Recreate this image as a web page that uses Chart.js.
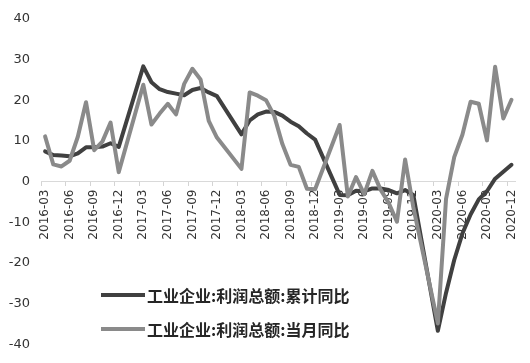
<!DOCTYPE html>
<html lang="zh">
<head>
    <meta charset="UTF-8">
    <title>工业企业利润总额同比</title>
    <style>
        html, body { margin: 0; padding: 0; background: #fff; }
        #wrap { width: 530px; height: 363px; }
    </style>
</head>
<body>
    <div id="wrap"><canvas id="profitChart" width="530" height="363"></canvas></div>

    <script src="https://cdn.jsdelivr.net/npm/chart.js@4/dist/chart.umd.min.js"></script>

    <script>
        const months = [
            '2016-03', '2016-04', '2016-05', '2016-06', '2016-07', '2016-08', '2016-09', '2016-10', '2016-11', '2016-12',
            '2017-01', '2017-02', '2017-03', '2017-04', '2017-05', '2017-06', '2017-07', '2017-08', '2017-09', '2017-10', '2017-11', '2017-12',
            '2018-01', '2018-02', '2018-03', '2018-04', '2018-05', '2018-06', '2018-07', '2018-08', '2018-09', '2018-10', '2018-11', '2018-12',
            '2019-01', '2019-02', '2019-03', '2019-04', '2019-05', '2019-06', '2019-07', '2019-08', '2019-09', '2019-10', '2019-11', '2019-12',
            '2020-01', '2020-02', '2020-03', '2020-04', '2020-05', '2020-06', '2020-07', '2020-08', '2020-09', '2020-10', '2020-11', '2020-12'
        ];

        // 累计同比 (%)
        const cumulative = [
            7.4, 6.5, 6.4, 6.2, 6.9, 8.4, 8.4, 8.6, 9.4, 8.5,
            null, null, 28.3, 24.4, 22.7, 22.0, 21.6, 21.2, 22.5, 23.0, 21.9, 21.0,
            null, null, 11.6, 15.0, 16.5, 17.2, 17.1, 16.2, 14.7, 13.6, 11.8, 10.3,
            null, null, -3.3, -3.4, -2.3, -2.4, -1.7, -1.7, -2.1, -2.9, -2.1, -3.3,
            null, null, -36.7, -27.4, -19.3, -12.8, -8.1, -4.4, -2.4, 0.7, 2.4, 4.1
        ];

        // 当月同比 (%)
        const monthly = [
            11.1, 4.2, 3.7, 5.1, 11.0, 19.5, 7.7, 9.8, 14.5, 2.3,
            null, null, 23.8, 14.0, 16.7, 19.1, 16.5, 24.0, 27.7, 25.1, 14.9, 10.8,
            null, null, 3.1, 21.9, 21.1, 20.0, 16.2, 9.2, 4.1, 3.6, -1.8, -1.9,
            null, null, 13.9, -3.7, 1.1, -3.1, 2.6, -2.0, -5.3, -9.9, 5.4, -6.3,
            null, null, -34.9, -4.3, 6.0, 11.5, 19.6, 19.1, 10.1, 28.2, 15.5, 20.1
        ];

        const seriesNames = ['工业企业:利润总额:累计同比', '工业企业:利润总额:当月同比'];
        const quarterEnds = ['03', '06', '09', '12'];

        const isQuarter = (i) => months[i] !== undefined && quarterEnds.includes(months[i].slice(5));

        // legend drawn inside the plot, lower left
        const innerLegend = {
            id: 'innerLegend',
            afterDraw(chart) {
                const ctx = chart.ctx;
                chart.data.datasets.forEach((ds, i) => {
                    const y = 295 + i * 34;
                    ctx.save();
                    ctx.strokeStyle = ds.borderColor;
                    ctx.lineWidth = 4;
                    ctx.beginPath();
                    ctx.moveTo(101, y);
                    ctx.lineTo(145, y);
                    ctx.stroke();
                    ctx.fillStyle = '#262626';
                    ctx.font = 'bold 16px "Noto Sans CJK SC"';
                    ctx.textBaseline = 'middle';
                    ctx.fillText(ds.label, 147, y + 1);
                    ctx.restore();
                });
            }
        };

        const config = {
            type: 'line',
            data: {
                labels: months,
                datasets: [
                    {
                        label: seriesNames[0],
                        data: cumulative,
                        borderColor: '#404040',
                        borderWidth: 4,
                        order: 2
                    },
                    {
                        label: seriesNames[1],
                        data: monthly,
                        borderColor: '#8a8a8a',
                        borderWidth: 4,
                        order: 1
                    }
                ]
            },
            options: {
                responsive: false,
                animation: false,
                spanGaps: true,
                elements: {
                    point: { radius: 0 },
                    line: { tension: 0, borderJoinStyle: 'round', borderCapStyle: 'round' }
                },
                layout: {
                    padding: { left: 0, right: 12, top: 11, bottom: 13 }
                },
                plugins: {
                    legend: { display: false },
                    tooltip: { enabled: false }
                },
                scales: {
                    x: {
                        position: { y: 0 },
                        offset: true,
                        grid: {
                            offset: true,
                            drawOnChartArea: false,
                            drawTicks: true,
                            tickLength: 4,
                            tickColor: (c) => isQuarter(c.index) ? '#d4d4d4' : 'rgba(0,0,0,0)'
                        },
                        border: { color: '#d9d9d9', width: 1 },
                        ticks: {
                            autoSkip: false,
                            maxRotation: 90,
                            minRotation: 90,
                            padding: 4,
                            color: '#333',
                            font: { family: 'DejaVu Sans', size: 12 },
                            callback: (v, i) => isQuarter(i) ? months[i] : ''
                        }
                    },
                    y: {
                        min: -40,
                        max: 40,
                        afterFit: (scale) => { scale.width = 41; },
                        grid: { display: false, drawTicks: false },
                        border: { display: false },
                        ticks: {
                            stepSize: 10,
                            padding: 11,
                            color: '#333',
                            font: { family: 'DejaVu Sans', size: 13 }
                        }
                    }
                }
            },
            plugins: [innerLegend]
        };

        new Chart(document.getElementById('profitChart').getContext('2d'), config);
    </script>
</body>
</html>
